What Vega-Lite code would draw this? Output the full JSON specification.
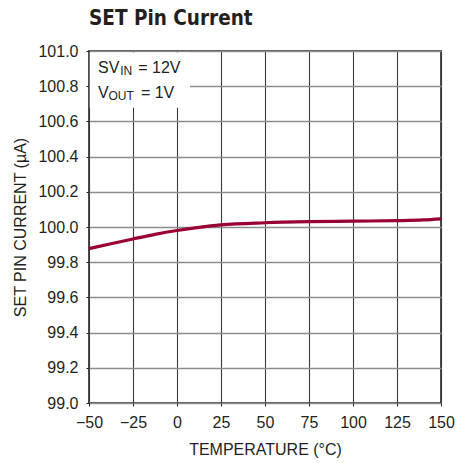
{
  "$schema": "https://vega.github.io/schema/vega-lite/v6.json",
  "autosize": "none",
  "width": 352,
  "height": 352,
  "padding": {"left": 89, "top": 51, "right": 30, "bottom": 60},
  "background": "white",
  "title": {
    "text": "SET Pin Current",
    "anchor": "start",
    "font": "DejaVu Sans Condensed",
    "fontSize": 20.5,
    "fontWeight": "bold",
    "color": "#231f20",
    "offset": 14,
    "frame": "group"
  },
  "config": {
    "view": {"stroke": "#231f20", "strokeWidth": 1.6},
    "axis": {
      "labelFont": "Liberation Sans",
      "labelFontSize": 16,
      "labelColor": "#231f20",
      "titleFont": "Liberation Sans",
      "titleFontSize": 16,
      "titleFontWeight": "normal",
      "titleColor": "#231f20",
      "domain": false,
      "tickColor": "#231f20",
      "tickSize": 3,
      "gridOpacity": 1,
      "labelOverlap": false
    }
  },
  "datasets": {
    "curve": [
      {"t": -50, "i": 99.877},
      {"t": -37.5, "i": 99.905},
      {"t": -25, "i": 99.932},
      {"t": -12.5, "i": 99.958},
      {"t": 0, "i": 99.98},
      {"t": 12.5, "i": 99.998},
      {"t": 25, "i": 100.012},
      {"t": 50, "i": 100.024},
      {"t": 75, "i": 100.030},
      {"t": 100, "i": 100.033},
      {"t": 125, "i": 100.036},
      {"t": 140, "i": 100.040},
      {"t": 150, "i": 100.046}
    ],
    "box": [{"x1": -49.6, "x2": 7.4, "y1": 100.677, "y2": 100.992}],
    "labels": [
      {"x": -44.9, "y": 100.877, "text": "SV", "s": 16},
      {"x": -32.3, "y": 100.863, "text": "IN", "s": 12},
      {"x": -22.0, "y": 100.877, "text": "= 12V", "s": 16},
      {"x": -44.9, "y": 100.735, "text": "V", "s": 16},
      {"x": -38.9, "y": 100.721, "text": "OUT", "s": 12},
      {"x": -20.5, "y": 100.735, "text": "= 1V", "s": 16}
    ]
  },
  "layer": [
    {
      "data": {"name": "curve"},
      "mark": {"type": "line", "color": "#990033", "strokeWidth": 3.2, "interpolate": "monotone"},
      "encoding": {
        "x": {
          "field": "t", "type": "quantitative",
          "scale": {"domain": [-50, 150], "nice": false},
          "axis": {
            "values": [-50, -25, 0, 25, 50, 75, 100, 125, 150],
            "tickCount": 20,
            "title": "TEMPERATURE (°C)",
            "labelPadding": 8,
            "titlePadding": 11,
            "gridColor": "#3a3a3a",
            "gridWidth": 1.1,
            "labelFlush": false,
            "labelOverlap": false
          }
        },
        "y": {
          "field": "i", "type": "quantitative",
          "scale": {"domain": [99, 101], "nice": false, "zero": false},
          "axis": {
            "values": [99, 99.2, 99.4, 99.6, 99.8, 100, 100.2, 100.4, 100.6, 100.8, 101],
            "tickCount": 20,
            "format": ".1f",
            "title": "SET PIN CURRENT (µA)",
            "labelPadding": 8,
            "titlePadding": 9,
            "gridColor": "#8c8c8c",
            "gridWidth": 1.5,
            "labelOverlap": false,
            "labelBound": false
          }
        }
      }
    },
    {
      "data": {"name": "box"},
      "mark": {"type": "rect", "fill": "white"},
      "encoding": {
        "x": {"field": "x1", "type": "quantitative"},
        "x2": {"field": "x2"},
        "y": {"field": "y1", "type": "quantitative"},
        "y2": {"field": "y2"}
      }
    },
    {
      "data": {"name": "labels"},
      "mark": {"type": "text", "align": "left", "baseline": "alphabetic", "font": "Liberation Sans", "color": "#231f20"},
      "encoding": {
        "x": {"field": "x", "type": "quantitative"},
        "y": {"field": "y", "type": "quantitative"},
        "text": {"field": "text"},
        "size": {"field": "s", "type": "quantitative", "scale": null}
      }
    }
  ]
}
